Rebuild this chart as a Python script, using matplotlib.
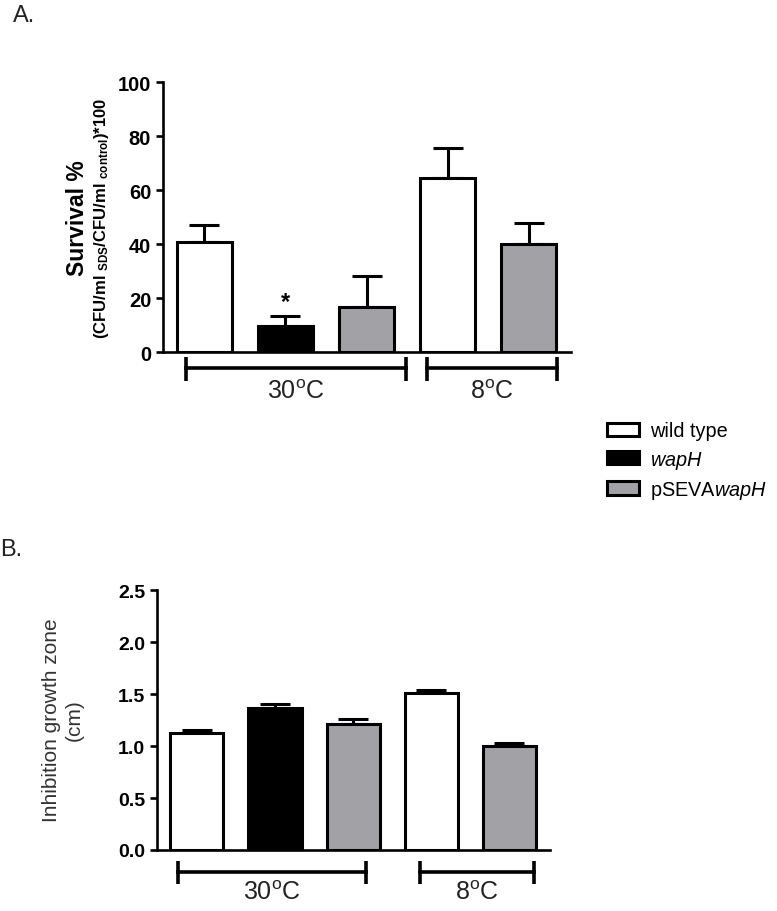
import numpy as np
import matplotlib.pyplot as plt
from matplotlib.patches import Patch
import matplotlib.transforms as mtransforms

plt.rcParams['font.family'] = ['Liberation Sans', 'DejaVu Sans']
plt.rcParams['mathtext.fontset'] = 'custom'
plt.rcParams['mathtext.rm'] = 'Liberation Sans'
plt.rcParams['mathtext.it'] = 'Liberation Sans:italic'
plt.rcParams['mathtext.bf'] = 'Liberation Sans:bold'

# data
strains = ['wild type', 'wapH', 'pSEVAwapH']
bar_strain = [0, 1, 2, 0, 2]
colors = ['white', 'black', '#a2a2a6']

survival = [40.7, 9.6, 16.7, 64.4, 40.0]
survival_err = [6.3, 3.7, 11.3, 11.1, 7.8]

zone = [1.125, 1.365, 1.21, 1.51, 1.0]
zone_err = [0.025, 0.035, 0.05, 0.03, 0.03]

temps = ['30$^{\\mathregular{o}}$C', '8$^{\\mathregular{o}}$C']

fig = plt.figure(figsize=(7.77, 9.12), dpi=100)
axA = fig.add_axes([0.2098, 0.6129, 0.525, 0.296])
axB = fig.add_axes([0.2021, 0.0669, 0.5058, 0.285])

x = np.arange(5)
lw = 2.2


def draw_panel(ax, vals, errs, brackets, by, bend, ty):
    fc = [colors[s] for s in bar_strain]
    ax.errorbar(x, vals, yerr=[np.zeros(5), errs], fmt='none', ecolor='black',
                elinewidth=lw, capsize=11, capthick=lw, zorder=1)
    ax.bar(x, vals, width=0.68, color=fc, edgecolor='black', linewidth=lw, zorder=2)
    ax.set_xlim(-0.51, 4.52)
    ax.set_xticks([])
    for s in ['top', 'right']:
        ax.spines[s].set_visible(False)
    for s in ['left', 'bottom']:
        ax.spines[s].set_linewidth(1.9)
    ax.tick_params(axis='y', direction='out', length=5, width=1.9)
    trans = mtransforms.blended_transform_factory(ax.transData, ax.transAxes)
    for (x0, x1), t in zip(brackets, temps):
        ax.plot([x0, x1], [by, by], color='black', lw=2.6, transform=trans, clip_on=False)
        for xe in (x0, x1):
            ax.plot([xe, xe], [bend[0], bend[1]], color='black', lw=2.6,
                    transform=trans, clip_on=False, solid_capstyle='butt')
        ax.text((x0 + x1) / 2, ty, t, transform=trans, ha='center', va='center',
                fontsize=18, color='#222222')


# panel A
draw_panel(axA, survival, survival_err, [(-0.23, 2.49), (2.74, 4.35)],
           -0.059, (-0.018, -0.107), -0.145)
axA.set_ylim(0, 100)
axA.set_yticks([0, 20, 40, 60, 80, 100])
for lab in axA.get_yticklabels():
    lab.set_fontweight('bold')
    lab.set_fontsize(14.5)
axA.text(1, 14.3, '*', ha='center', va='bottom', fontsize=17, fontweight='bold')
fig.text(0.1, 0.761, 'Survival %', rotation=90, ha='center', va='center',
         fontsize=16.5, fontweight='bold')
fig.text(0.13, 0.761,
         '(CFU/ml $_{\\mathbf{SDS}}$/CFU/ml $_{\\mathbf{control}}$)*100',
         rotation=90, ha='center', va='center', fontsize=12, fontweight='bold')
fig.text(0.017, 0.983, 'A.', fontsize=17, va='center', color='#222222')

# panel B
draw_panel(axB, zone, zone_err, [(-0.24, 2.16), (2.85, 4.31)],
           -0.085, (-0.042, -0.131), -0.163)
axB.set_ylim(0, 2.5)
axB.set_yticks([0, 0.5, 1.0, 1.5, 2.0, 2.5])
axB.set_yticklabels(['%.1f' % v for v in axB.get_yticks()])
for lab in axB.get_yticklabels():
    lab.set_fontweight('bold')
    lab.set_fontsize(14)
fig.text(0.081, 0.21, 'Inhibition growth zone\n(cm)', rotation=90, ha='center',
         va='center', fontsize=15, color='#333333', linespacing=1.25)
fig.text(0.0, 0.397, 'B.', fontsize=17, va='center', color='#222222')

# legend
handles = [Patch(facecolor=c, edgecolor='black', linewidth=lw) for c in colors]
labels = ['wild type', '$\\mathit{wapH}$', 'pSEVA$\\mathit{wapH}$']
fig.legend(handles, labels, loc='upper left', bbox_to_anchor=(0.781, 0.537),
           frameon=False, fontsize=14.3, handlelength=1.6, handleheight=0.65,
           handletextpad=0.55, labelspacing=0.42, borderpad=0, borderaxespad=0)

fig.savefig('out.png', dpi=100)
